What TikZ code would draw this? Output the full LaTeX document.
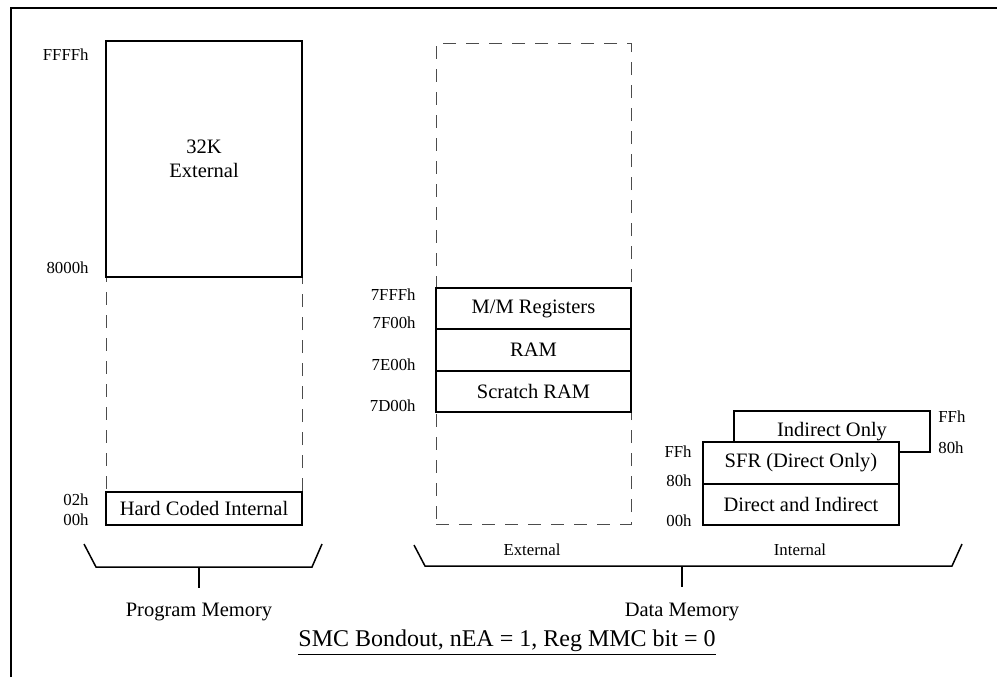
\documentclass[tikz,border=0pt]{standalone}
\usepackage{fontspec}
\setmainfont{Liberation Serif}
\tikzset{>=latex}
\tikzset{
  memblock/.style={draw,line width=0.75pt,fill=white,inner sep=0pt,align=center,
    font=\fontsize{10.25}{12}\selectfont},
  region/.style={draw=black!70,line width=0.5pt,dash pattern=on 6.5pt off 5pt,inner sep=0pt},
  addr/.style={inner sep=0pt,font=\fontsize{8.4}{10}\selectfont},
  caption/.style={inner sep=0pt,font=\fontsize{10.25}{12}\selectfont},
  brace/.style={line width=0.75pt}
}

\begin{document}
\begin{tikzpicture}[x=0.5pt,y=-0.5pt]
  \useasboundingbox (0,0) rectangle (997,677);
  \draw[line width=1pt] (11,677) -- (11,7.5) -- (997,7.5);

  % program memory
  \node[region,minimum width=98pt,minimum height=242pt] (pgm) at (204,283) {};
  \node[memblock,minimum width=98pt,minimum height=118pt] (ext) at (204,159) {32K\\External};
  \node[memblock,minimum width=98pt,minimum height=16.5pt] (hci) at (204,508.5) {Hard Coded Internal};
  \node[addr,anchor=east] (pffff) at (89,55) {FFFFh};
  \node[addr,anchor=east] (p8000) at (89,268) {8000h};
  \node[addr,anchor=east] (p02) at (89,500) {02h};
  \node[addr,anchor=east] (p00) at (89,520) {00h};

  % data memory, external
  \node[region,minimum width=97.5pt,minimum height=240.5pt] (dat) at (533.5,283.5) {};
  \node[memblock,minimum width=97.5pt,minimum height=20.5pt] (mm) at (533.5,308.5) {M/M Registers};
  \node[memblock,minimum width=97.5pt,minimum height=21pt] (ram) at (533.5,350) {RAM};
  \node[memblock,minimum width=97.5pt,minimum height=20.5pt] (scr) at (533.5,391.5) {Scratch RAM};
  \node[addr,anchor=east] (d7fff) at (416,295) {7FFFh};
  \node[addr,anchor=east] (d7f00) at (416,323) {7F00h};
  \node[addr,anchor=east] (d7e00) at (416,365) {7E00h};
  \node[addr,anchor=east] (d7d00) at (416,406) {7D00h};

  % data memory, internal
  \node[memblock,minimum width=98pt,minimum height=20.5pt] (ind) at (832,431.5) {Indirect Only};
  \node[memblock,minimum width=98pt,minimum height=21pt] (sfr) at (801,463) {SFR (Direct Only)};
  \node[memblock,minimum width=98pt,minimum height=20.5pt] (dai) at (801,504.5) {Direct and Indirect};
  \node[addr,anchor=west] (iff) at (938,417) {FFh};
  \node[addr,anchor=west] (i80) at (938,448) {80h};
  \node[addr,anchor=east] (sff) at (692,452) {FFh};
  \node[addr,anchor=east] (s80) at (692,481) {80h};
  \node[addr,anchor=east] (s00) at (692,521) {00h};

  % braces
  \draw[brace] (84,544) -- (96,567) -- (312,567) -- (322,544);
  \coordinate (pmid) at (199,567);
  \coordinate (pend) at (199,588);
  \draw[brace] (pmid) -- (pend);
  \node[caption] (pmem) at (199,612) {Program Memory};

  \draw[brace] (414,545) -- (425,566) -- (952,566) -- (962,544);
  \coordinate (dmid) at (682,566);
  \coordinate (dend) at (682,587);
  \draw[brace] (dmid) -- (dend);
  \node[caption] (dmem) at (682,612) {Data Memory};
  \node[addr] (lext) at (532,550) {External};
  \node[addr] (lint) at (800,550) {Internal};

  \node[inner sep=0pt,font=\fontsize{12}{14}\selectfont] (title) at (507,643)
    {\underline{SMC Bondout, nEA = 1, Reg MMC bit = 0}};
\end{tikzpicture}
\end{document}
